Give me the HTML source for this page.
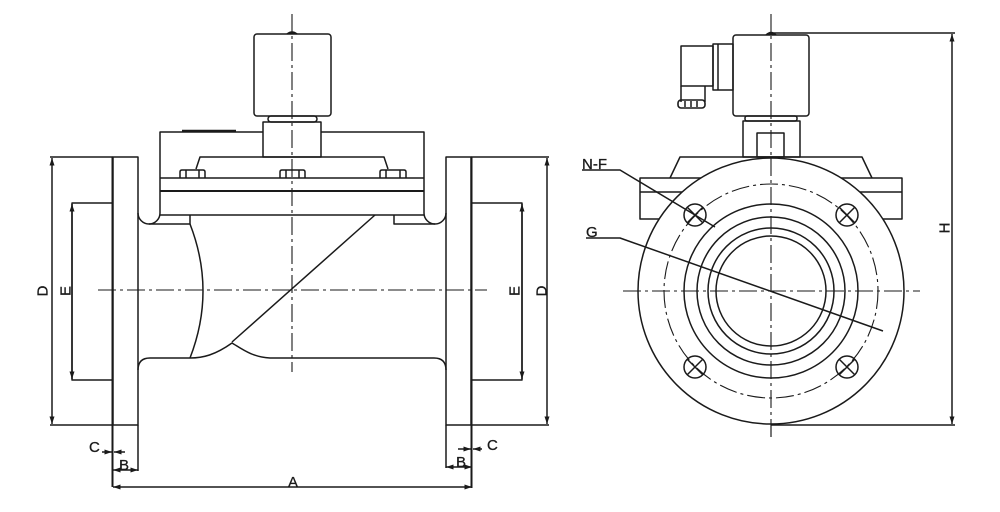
<!DOCTYPE html>
<html><head><meta charset="utf-8"><style>
html,body{margin:0;padding:0;background:#fff;}
svg{display:block;}
text{font-family:"Liberation Sans",Arial,sans-serif;font-size:15px;fill:#1a1a1a;stroke:#1a1a1a;stroke-width:0.3;}
</style></head><body>
<svg width="1000" height="512" viewBox="0 0 1000 512" xmlns="http://www.w3.org/2000/svg">
<defs>
<marker id="a" viewBox="0 0 6 6" refX="6" refY="3" markerWidth="5" markerHeight="5" orient="auto-start-reverse"><path d="M0,1 L6,3 L0,5 Z" fill="#1a1a1a"/></marker>
</defs>
<g fill="none" stroke="#1a1a1a" stroke-width="1.5" stroke-linejoin="round">
<!-- ===== LEFT VIEW ===== -->
<rect x="254" y="34" width="77" height="82" rx="3"/>
<path d="M287,34 Q292,30 297,34" fill="#1a1a1a"/>
<rect x="268" y="116" width="49" height="6" rx="3"/>
<rect x="263" y="122" width="58" height="35"/>
<path d="M160,213 L160,132 L263,132 M321,132 L424,132 L424,213"/>
<line x1="182" y1="131" x2="236" y2="131" stroke-width="2.5"/>
<path d="M196,169 L200,157 L384,157 L388,169"/>
<line x1="160" y1="178" x2="424" y2="178"/>
<line x1="160" y1="191" x2="424" y2="191" stroke-width="1.9"/>
<line x1="160" y1="215" x2="424" y2="215"/>
<path d="M180,178 L180,172 Q180,170 182,170 L203,170 Q205,170 205,172 L205,178 M186,170 L186,178 M199,170 L199,178"/>
<path d="M280,178 L280,172 Q280,170 282,170 L303,170 Q305,170 305,172 L305,178 M286,170 L286,178 M299,170 L299,178"/>
<path d="M380,178 L380,172 Q380,170 382,170 L404,170 Q406,170 406,172 L406,178 M386,170 L386,178 M400,170 L400,178"/>
<rect x="113" y="157" width="25" height="268"/>
<rect x="446" y="157" width="25" height="268"/>
<line x1="112.5" y1="157" x2="112.5" y2="487" stroke-width="2"/>
<line x1="471.5" y1="157" x2="471.5" y2="488" stroke-width="2"/>
<path d="M138,213 A11,11 0 0 0 160,213"/>
<path d="M424,213 A11,11 0 0 0 446,213"/>
<path d="M149,224 L190,224 L190,215"/>
<path d="M435,224 L394,224 L394,215"/>
<path d="M190,224 Q216,291 190,358"/>
<path d="M375,215 L232,342"/>
<path d="M138,370 Q138,358 150,358 L190,358 C203,358 215,355 232,343 C242,349 252,357 270,358 L434,358 Q446,358 446,370"/>
<path d="M113,203 L72,203 L72,380 L113,380"/>
<path d="M472,203 L522,203 L522,380 L472,380"/>
<line x1="50" y1="157" x2="113" y2="157"/>
<line x1="50" y1="425" x2="113" y2="425"/>
<line x1="471" y1="157" x2="549" y2="157"/>
<line x1="471" y1="425" x2="549" y2="425"/>
<line x1="138" y1="425" x2="138" y2="471"/>
<line x1="446" y1="425" x2="446" y2="468"/>
<line x1="52" y1="158" x2="52" y2="424" marker-start="url(#a)" marker-end="url(#a)"/>
<line x1="72" y1="204" x2="72" y2="379" marker-start="url(#a)" marker-end="url(#a)"/>
<line x1="547" y1="158" x2="547" y2="424" marker-start="url(#a)" marker-end="url(#a)"/>
<line x1="522" y1="204" x2="522" y2="379" marker-start="url(#a)" marker-end="url(#a)"/>
<line x1="113" y1="487" x2="472" y2="487" marker-start="url(#a)" marker-end="url(#a)"/>
<line x1="113" y1="470" x2="138" y2="470" marker-start="url(#a)" marker-end="url(#a)"/>
<line x1="446" y1="467" x2="472" y2="467" marker-start="url(#a)" marker-end="url(#a)"/>
<line x1="102" y1="452" x2="112" y2="452" marker-end="url(#a)"/>
<line x1="125" y1="452" x2="114" y2="452" marker-end="url(#a)"/>
<line x1="458" y1="449" x2="471" y2="449" marker-end="url(#a)"/>
<line x1="482" y1="449" x2="473" y2="449" marker-end="url(#a)"/>
<g stroke-dasharray="18 4 3 4" stroke-width="1.1">
<line x1="292" y1="14" x2="292" y2="372"/>
<line x1="98" y1="290" x2="487" y2="290"/>
<line x1="771" y1="14" x2="771" y2="437"/>
<line x1="623" y1="291" x2="920" y2="291"/>
</g>

<!-- ===== RIGHT VIEW ===== -->
<rect x="733" y="35" width="76" height="81" rx="3"/>
<path d="M766,35 Q771,30 776,35" fill="#1a1a1a"/>
<rect x="681" y="46" width="32" height="40"/>
<rect x="713" y="44" width="20" height="46"/>
<line x1="718" y1="44" x2="718" y2="90"/>
<path d="M681,86 L681,102 M705,86 L705,102"/>
<rect x="678" y="100" width="27" height="8" rx="3" stroke-width="1.6"/>
<path d="M685,101 L685,107 M691,101 L691,107 M697,101 L697,107"/>
<rect x="745" y="116" width="52" height="5" rx="2"/>
<rect x="743" y="121" width="57" height="36"/>
<rect x="757" y="133" width="27" height="24"/>
<path d="M670,178 L680,157 L862,157 L872,178"/>
<rect x="640" y="178" width="262" height="41"/>
<line x1="640" y1="192" x2="902" y2="192"/>
<circle cx="771" cy="291" r="133" fill="#fff"/>
<circle cx="771" cy="291" r="107" stroke-dasharray="18 4 3 4" stroke-width="1.1"/>
<circle cx="771" cy="291" r="87"/>
<circle cx="771" cy="291" r="74"/>
<circle cx="771" cy="291" r="63"/>
<circle cx="771" cy="291" r="55"/>
<g stroke-dasharray="18 4 3 4" stroke-width="1.1">
<line x1="771" y1="158" x2="771" y2="437"/>
<line x1="623" y1="291" x2="920" y2="291"/>
</g>
<circle cx="695" cy="215" r="11"/>
<circle cx="847" cy="215" r="11"/>
<circle cx="695" cy="367" r="11"/>
<circle cx="847" cy="367" r="11"/>
<path d="M687,207 L703,223 M703,207 L687,223"/>
<path d="M839,207 L855,223 M855,207 L839,223"/>
<path d="M687,359 L703,375 M703,359 L687,375"/>
<path d="M839,359 L855,375 M855,359 L839,375"/>
<path d="M582,170 L620,170 L715,227"/>
<path d="M586,238 L620,238 L883,331"/>
<line x1="771" y1="33" x2="955" y2="33"/>
<line x1="771" y1="425" x2="955" y2="425"/>
<line x1="952" y1="34" x2="952" y2="424" marker-start="url(#a)" marker-end="url(#a)"/>
</g>

<text x="43" y="291" text-anchor="middle" dominant-baseline="central" transform="rotate(-90 43 291)">D</text>
<text x="66" y="291" text-anchor="middle" dominant-baseline="central" transform="rotate(-90 66 291)">E</text>
<text x="515" y="291" text-anchor="middle" dominant-baseline="central" transform="rotate(-90 515 291)">E</text>
<text x="542" y="291" text-anchor="middle" dominant-baseline="central" transform="rotate(-90 542 291)">D</text>
<text x="945" y="228" text-anchor="middle" dominant-baseline="central" transform="rotate(-90 945 228)">H</text>
<text x="89" y="452">C</text>
<text x="119" y="470">B</text>
<text x="288" y="487">A</text>
<text x="456" y="467">B</text>
<text x="487" y="450">C</text>
<text x="582" y="169">N-F</text>
<text x="586" y="237">G</text>
</svg>
</body></html>
